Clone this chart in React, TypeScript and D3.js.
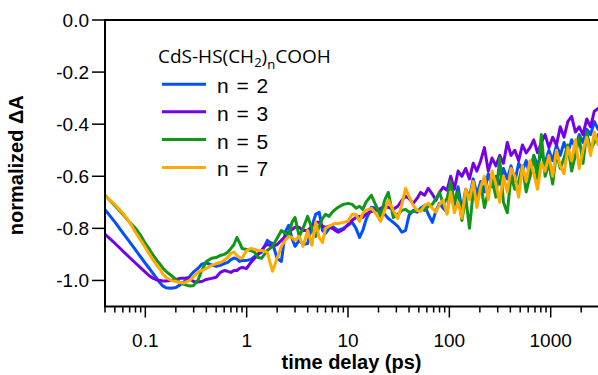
import React from "react";
import * as d3 from "d3";

const times = [
  0.04, 0.05, 0.06, 0.07, 0.08, 0.09, 0.1, 0.11, 0.12, 0.13,
  0.14, 0.15, 0.16, 0.18, 0.2, 0.22, 0.24, 0.26, 0.28, 0.3,
  0.33, 0.36, 0.4, 0.45, 0.5, 0.55, 0.6, 0.65, 0.7, 0.75,
  0.8, 0.85, 0.9, 1.0, 1.1, 1.2, 1.3, 1.4, 1.5, 1.6,
  1.7, 1.8, 2.0, 2.2, 2.4, 2.6, 2.8, 3.0, 3.3, 3.6,
  4.0, 4.4, 4.8, 5.2, 5.6, 6.0, 6.5, 7.0, 7.5, 8,
  9, 10, 11, 12, 13, 14, 15, 17, 19, 21,
  23, 25, 28, 31, 34, 37, 40, 44, 48, 52,
  57, 62, 68, 74, 80, 87, 95, 103, 112, 122,
  133, 145, 158, 172, 187, 204, 222, 242, 264, 288,
  314, 342, 373, 406, 443, 483, 526, 573, 625, 681,
  742, 809, 881, 960, 1046, 1140, 1243, 1354, 1476, 1609,
  1753, 1911, 2083, 2270, 2474, 2697, 2940,
];

const n2 = [
  -0.728, -0.775, -0.817, -0.852, -0.883, -0.91, -0.934, -0.955, -0.975, -0.993,
  -1.01, -1.022, -1.028, -1.03, -1.027, -1.017, -1.006, -0.996, -0.98, -0.967,
  -0.954, -0.938, -0.933, -0.94, -0.946, -0.942, -0.935, -0.931, -0.92, -0.914,
  -0.917, -0.927, -0.923, -0.923, -0.919, -0.908, -0.898, -0.892, -0.869, -0.846,
  -0.854, -0.858, -0.915, -0.927, -0.815, -0.788, -0.838, -0.869, -0.846, -0.862,
  -0.858, -0.792, -0.746, -0.738, -0.808, -0.819, -0.8, -0.792, -0.8, -0.808,
  -0.8, -0.788, -0.777, -0.8, -0.835, -0.808, -0.769, -0.719, -0.723, -0.738,
  -0.746, -0.762, -0.777, -0.792, -0.815, -0.808, -0.75, -0.731, -0.738, -0.723,
  -0.712, -0.746, -0.777, -0.731, -0.704, -0.723, -0.738, -0.66, -0.71, -0.64,
  -0.73, -0.65, -0.68, -0.61, -0.67, -0.62, -0.66, -0.59, -0.64, -0.6,
  -0.63, -0.57, -0.61, -0.56, -0.62, -0.55, -0.58, -0.54, -0.6, -0.52,
  -0.56, -0.51, -0.55, -0.5, -0.54, -0.48, -0.52, -0.47, -0.51, -0.46,
  -0.49, -0.44, -0.47, -0.42, -0.44, -0.39, -0.42,
];

const n3 = [
  -0.823, -0.857, -0.887, -0.912, -0.933, -0.952, -0.968, -0.983, -0.992, -0.998,
  -1.0, -1.002, -1.002, -1.0, -0.996, -0.992, -0.992, -0.99, -0.996, -1.004,
  -1.006, -1.004, -0.996, -0.992, -0.988, -0.969, -0.962, -0.965, -0.969, -0.962,
  -0.962, -0.954, -0.95, -0.954, -0.931, -0.915, -0.9, -0.885, -0.869, -0.862,
  -0.865, -0.869, -0.862, -0.846, -0.831, -0.815, -0.804, -0.796, -0.796, -0.808,
  -0.808, -0.792, -0.777, -0.777, -0.792, -0.796, -0.792, -0.8, -0.808, -0.815,
  -0.804, -0.785, -0.769, -0.758, -0.754, -0.758, -0.746, -0.735, -0.731, -0.723,
  -0.715, -0.719, -0.727, -0.715, -0.692, -0.677, -0.685, -0.704, -0.685, -0.662,
  -0.673, -0.646, -0.669, -0.692, -0.662, -0.642, -0.654, -0.6, -0.65, -0.58,
  -0.6, -0.57, -0.61, -0.55, -0.58, -0.54, -0.49, -0.58, -0.53, -0.56,
  -0.52, -0.55, -0.47, -0.52, -0.5, -0.54, -0.48, -0.51, -0.49, -0.46,
  -0.51, -0.47, -0.44, -0.49, -0.45, -0.48, -0.41, -0.45, -0.39, -0.37,
  -0.43, -0.41, -0.44, -0.38, -0.41, -0.35, -0.34,
];

const n5 = [
  -0.673, -0.712, -0.746, -0.777, -0.8, -0.827, -0.858, -0.881, -0.904, -0.923,
  -0.938, -0.954, -0.965, -0.981, -0.996, -1.008, -1.015, -1.019, -1.021, -1.019,
  -1.0, -0.962, -0.927, -0.915, -0.912, -0.904, -0.9, -0.892, -0.877, -0.862,
  -0.835, -0.854, -0.877, -0.881, -0.885, -0.892, -0.912, -0.915, -0.9, -0.885,
  -0.877, -0.869, -0.838, -0.808, -0.819, -0.827, -0.777, -0.758, -0.831, -0.8,
  -0.754, -0.8, -0.831, -0.792, -0.762, -0.746, -0.754, -0.738, -0.727, -0.719,
  -0.708, -0.704, -0.708, -0.723, -0.715, -0.727, -0.7, -0.673, -0.715, -0.754,
  -0.692, -0.662, -0.758, -0.746, -0.731, -0.727, -0.738, -0.735, -0.731, -0.727,
  -0.731, -0.715, -0.708, -0.685, -0.662, -0.708, -0.685, -0.62, -0.7, -0.66,
  -0.77, -0.68, -0.8, -0.66, -0.7, -0.63, -0.72, -0.66, -0.61, -0.68,
  -0.53, -0.7, -0.74, -0.6, -0.65, -0.62, -0.56, -0.66, -0.6, -0.52,
  -0.61, -0.44, -0.6, -0.55, -0.63, -0.51, -0.57, -0.53, -0.48, -0.58,
  -0.52, -0.45, -0.55, -0.43, -0.5, -0.47, -0.44,
];

const n7 = [
  -0.676, -0.708, -0.742, -0.777, -0.815, -0.846, -0.873, -0.9, -0.923, -0.942,
  -0.958, -0.977, -0.988, -1.0, -1.004, -1.008, -1.01, -1.004, -0.996, -0.985,
  -0.968, -0.962, -0.954, -0.942, -0.935, -0.931, -0.923, -0.912, -0.896, -0.891,
  -0.904, -0.912, -0.915, -0.885, -0.877, -0.881, -0.885, -0.885, -0.888, -0.892,
  -0.931, -0.965, -0.915, -0.869, -0.846, -0.831, -0.835, -0.846, -0.831, -0.869,
  -0.808, -0.865, -0.777, -0.835, -0.854, -0.8, -0.792, -0.785, -0.781, -0.781,
  -0.777, -0.773, -0.746, -0.746, -0.773, -0.742, -0.731, -0.723, -0.746, -0.773,
  -0.731, -0.692, -0.731, -0.762, -0.708, -0.646, -0.677, -0.712, -0.731, -0.735,
  -0.712, -0.704, -0.723, -0.738, -0.708, -0.692, -0.746, -0.66, -0.74, -0.7,
  -0.76, -0.65, -0.69, -0.62, -0.72, -0.64, -0.6, -0.69, -0.58, -0.63,
  -0.7, -0.6, -0.66, -0.57, -0.6, -0.68, -0.56, -0.62, -0.54, -0.59,
  -0.65, -0.55, -0.58, -0.52, -0.6, -0.5, -0.56, -0.59, -0.49, -0.54,
  -0.46, -0.57, -0.5, -0.45, -0.52, -0.43, -0.48,
];

const seriesNames = ["n = 2", "n = 3", "n = 5", "n = 7"];
const seriesValues = [n2, n3, n5, n7];
const seriesColors = ["#0050ff", "#7300e6", "#12961a", "#ffaa00"];

const xMajorTicks = [0.1, 1, 10, 100, 1000];
const xTickLabels = ["0.1", "1", "10", "100", "1000"];
const yTicks = [0, -0.2, -0.4, -0.6, -0.8, -1.0];
const yTickLabels = ["0.0", "-0.2", "-0.4", "-0.6", "-0.8", "-1.0"];

const W = 598;
const H = 375;
const L = 105;
const R = 598;
const T = 20;
const B = 306.5;

export default function App() {
  const x = d3.scaleLog().domain([0.04, 2930]).range([L, R]);
  const y = d3.scaleLinear().domain([-1.1, 0]).range([B, T]);
  const line = d3
    .line<[number, number]>()
    .x((d) => x(d[0]))
    .y((d) => y(d[1]));

  const minorTicks = x
    .ticks(40)
    .filter((t) => !xMajorTicks.some((m) => Math.abs(m - t) / m < 1e-6))
    .filter((t) => x(t) >= L && x(t) <= R + 0.5);

  const sans = "'Liberation Sans', Arial, Helvetica, sans-serif";
  const legendLineY = [84.3, 111.8, 139.6, 167.4];

  return (
    <svg
      width={W}
      height={H}
      viewBox={`0 0 ${W} ${H}`}
      style={{ position: "absolute", left: 0, top: 0, background: "#fff" }}
    >
      <defs>
        <clipPath id="plotclip">
          <rect x={L} y={T} width={R - L} height={B - T} />
        </clipPath>
      </defs>

      <g clipPath="url(#plotclip)">
        {seriesValues.map((vals, i) => (
          <path
            key={seriesNames[i]}
            d={line(times.map((t, j) => [t, vals[j]] as [number, number])) || ""}
            fill="none"
            stroke={seriesColors[i]}
            strokeWidth={3}
            strokeLinejoin="round"
            strokeLinecap="round"
          />
        ))}
      </g>

      {/* frame */}
      <line x1={L} x2={L} y1={T} y2={B} stroke="#000" strokeWidth={2} />
      <line x1={L - 1} x2={R} y1={T} y2={T} stroke="#000" strokeWidth={2} />
      <line x1={L - 1} x2={R} y1={B} y2={B} stroke="#000" strokeWidth={2} />

      {/* y ticks */}
      {yTicks.map((v, i) => (
        <g key={"y" + i}>
          <line x1={L - 13} x2={L} y1={y(v)} y2={y(v)} stroke="#000" strokeWidth={1.5} />
          <text
            x={L - 16}
            y={y(v)}
            dy="0.35em"
            textAnchor="end"
            fontFamily={sans}
            fontSize={19}
            fill="#000"
          >
            {yTickLabels[i]}
          </text>
        </g>
      ))}

      {/* x ticks */}
      {minorTicks.map((t, i) => (
        <line key={"m" + i} x1={x(t)} x2={x(t)} y1={B} y2={B + 6} stroke="#000" strokeWidth={1.5} />
      ))}
      {xMajorTicks.map((t, i) => (
        <g key={"x" + i}>
          <line x1={x(t)} x2={x(t)} y1={B} y2={B + 11} stroke="#000" strokeWidth={1.5} />
          <text x={x(t)} y={347} textAnchor="middle" fontFamily={sans} fontSize={19} fill="#000">
            {xTickLabels[i]}
          </text>
        </g>
      ))}

      {/* axis titles */}
      <text
        x={(L + R) / 2}
        y={369}
        textAnchor="middle"
        fontFamily={sans}
        fontWeight="bold"
        fontSize={20}
        fill="#000"
      >
        time delay (ps)
      </text>
      <text
        transform={`translate(23, ${(T + B) / 2 + 2}) rotate(-90)`}
        textAnchor="middle"
        fontFamily={sans}
        fontWeight="bold"
        fontSize={20}
        fill="#000"
      >
        normalized ΔA
      </text>

      {/* legend */}
      <text x={158} y={63} fontFamily="'Open Sans', sans-serif" fontSize={19} fill="#000">
        CdS-HS(CH
        <tspan fontSize={13} dy={4}>2</tspan>
        <tspan dy={-4}>)</tspan>
        <tspan fontSize={13} dy={6}>n</tspan>
        <tspan dy={-6}>COOH</tspan>
      </text>
      {seriesNames.map((name, i) => (
        <g key={"lg" + i}>
          <line
            x1={162}
            x2={206}
            y1={legendLineY[i]}
            y2={legendLineY[i]}
            stroke={seriesColors[i]}
            strokeWidth={3}
          />
          <text
            x={217}
            y={legendLineY[i] + 9}
            fontFamily={sans}
            fontSize={21}
            wordSpacing={2}
            fill="#000"
          >
            {name}
          </text>
        </g>
      ))}
    </svg>
  );
}
